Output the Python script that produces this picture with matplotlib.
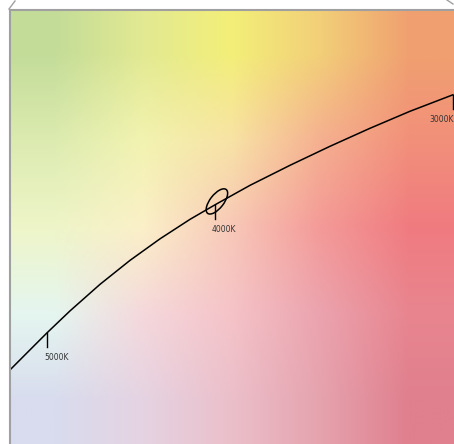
import numpy as np
import matplotlib
matplotlib.use('Agg')
from matplotlib import pyplot as plt
from matplotlib.patches import Ellipse
from matplotlib.colors import to_rgb
from matplotlib.lines import Line2D

# chromaticity window (approx. CIE 1931 x, y)
x_min, x_max = 0.3384, 0.4296
y_min, y_max = 0.3277, 0.4168

# Planckian locus
locus_x = [0.33841, 0.34251, 0.34600, 0.35073, 0.35689, 0.36305, 0.36921, 0.37537,
           0.38050, 0.38769, 0.39590, 0.40411, 0.41233, 0.42054, 0.42937]
locus_y = [0.34292, 0.34703, 0.35052, 0.35503, 0.36048, 0.36540, 0.36982, 0.37382,
           0.37680, 0.38080, 0.38491, 0.38881, 0.39251, 0.39600, 0.39939]

cct_labels = ['5000K', '4000K', '3000K']
cct_x = [0.34600, 0.38050, 0.42937]
cct_y = [0.35052, 0.37680, 0.39939]
label_dx = [-3, -3, -23]

# MacAdam-style ellipse at 4000K
ell_center = (0.3809, 0.3775)
ell_width = 0.0062
ell_height = 0.0028
ell_angle = 52

# background colours, rows top -> bottom
bg_rows = [
    ['#c3dc98', '#e2e992', '#f3ef78', '#f2cf78', '#f0a070'],
    ['#dcebb0', '#f2f3b0', '#f8e3a5', '#f5b090', '#f2907a'],
    ['#eef5c8', '#fbf0c8', '#f8c8b8', '#f49a98', '#f07b80'],
    ['#e5f6f0', '#f5d8dc', '#f5c3c8', '#eba3ae', '#e8858f'],
    ['#d8dcee', '#e5d3e2', '#ebbfca', '#e5a3ae', '#e07f8e'],
]

W, H = 454, 444
fig = plt.figure(figsize=(W / 100, H / 100), dpi=100)
ax = fig.add_axes([10 / W, 0, 444 / W, 434 / H])

img = np.array([[to_rgb(c) for c in row] for row in bg_rows])
ax.imshow(img, extent=[x_min, x_max, y_min, y_max], origin='upper',
          interpolation='bilinear', aspect='auto', zorder=0)

ax.plot(locus_x, locus_y, color='black', lw=1.1, zorder=2)

tick_len = 0.0029
for lab, cx, cy, dx in zip(cct_labels, cct_x, cct_y, label_dx):
    ax.plot([cx, cx], [cy, cy - tick_len], color='black', lw=1.0, zorder=2)
    ax.annotate(lab, xy=(cx, cy), xytext=(dx, -25), textcoords='offset pixels',
                ha='left', va='center', fontsize=5.5, color='#333333',
                annotation_clip=False)

ax.add_patch(Ellipse(ell_center, ell_width, ell_height, angle=ell_angle,
                     fill=False, edgecolor='black', lw=1.1, zorder=3))

ax.set_xlim(x_min, x_max)
ax.set_ylim(y_min, y_max)
ax.set_xticks([])
ax.set_yticks([])
for side in ['right', 'bottom']:
    ax.spines[side].set_visible(False)
for side in ['top', 'left']:
    ax.spines[side].set_color('#a0a0a0')
    ax.spines[side].set_linewidth(1.5)

# frame corners above the plot
fig.add_artist(Line2D([9 / W, 15 / W], [1 - 9 / H, 1 - 1 / H], color='#a0a0a0', lw=1.0))
fig.add_artist(Line2D([447 / W, 453 / W], [1, 1 - 4 / H], color='#a0a0a0', lw=1.0))

fig.savefig('out.png', dpi=100)
